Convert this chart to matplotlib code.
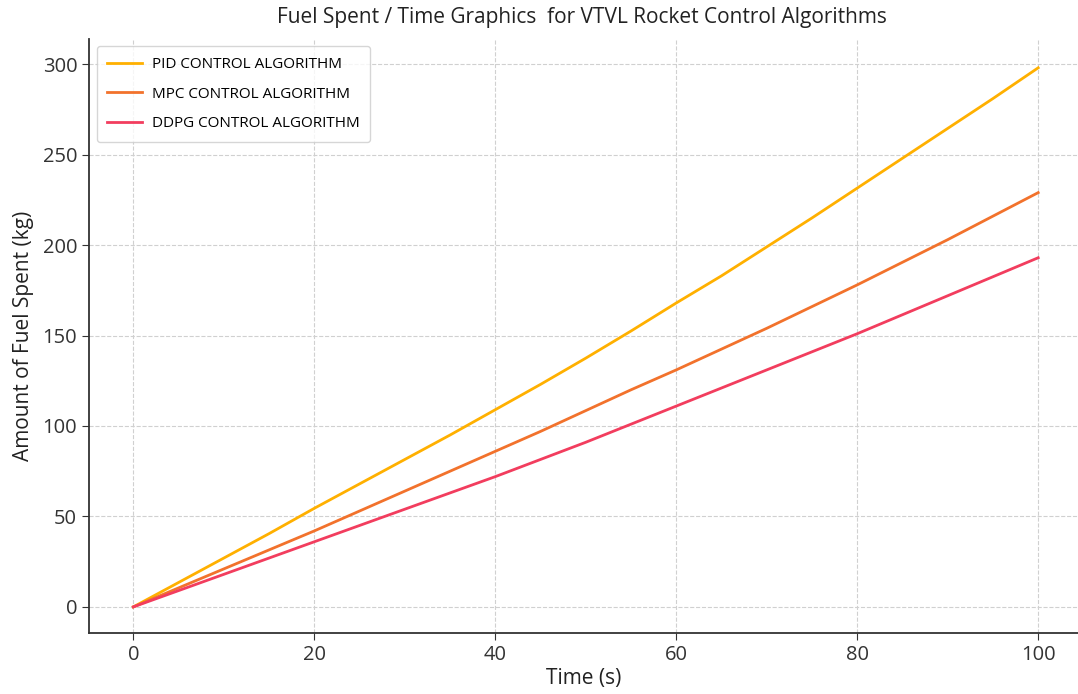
import matplotlib
matplotlib.use("Agg")
import matplotlib.pyplot as plt

# values, every 5 s
time_s = [0, 5, 10, 15, 20, 25, 30, 35, 40, 45, 50, 55, 60, 65, 70, 75, 80, 85, 90, 95, 100]
pid_fuel = [0, 13.5, 27, 40.5, 54.5, 68, 81.5, 95, 109, 123, 137.5, 152.5, 168, 183, 199, 215, 231.5, 248, 264.5, 281, 298]
mpc_fuel = [0, 10.5, 21, 31.5, 42, 53, 64, 75, 86, 97, 108.5, 120, 131, 142.5, 154, 166, 178, 190.5, 203, 216, 229]
ddpg_fuel = [0, 9, 18, 27, 36, 45, 54, 63, 72, 81.5, 91, 101, 111, 121, 131, 141, 151, 161.5, 172, 182.5, 193]

plt.rcParams["font.family"] = ["Open Sans", "DejaVu Sans"]

fig = plt.figure(figsize=(10.78, 6.94), dpi=100)
ax = fig.add_axes([0.0826, 0.088, 0.9174, 0.856])

ax.plot(time_s, pid_fuel, color="#FFB000", lw=2, label="PID CONTROL ALGORITHM")
ax.plot(time_s, mpc_fuel, color="#F2722C", lw=2, label="MPC CONTROL ALGORITHM")
ax.plot(time_s, ddpg_fuel, color="#F23D5E", lw=2, label="DDPG CONTROL ALGORITHM")

ax.set_xlim(-4.9, 104.4)
ax.set_ylim(-14.4, 314)
ax.set_xticks([0, 20, 40, 60, 80, 100])
ax.set_yticks([0, 50, 100, 150, 200, 250, 300])
ax.tick_params(labelsize=14.5, colors="#333333", length=5)
ax.grid(True, linestyle="--", color="#d0d0d0", linewidth=0.8)
ax.spines["top"].set_visible(False)
ax.spines["right"].set_visible(False)
ax.spines["left"].set_color("#333333")
ax.spines["bottom"].set_color("#333333")
ax.spines["left"].set_linewidth(1.3)
ax.spines["bottom"].set_linewidth(1.3)

ax.set_xlabel("Time (s)", fontsize=15, color="#222222", labelpad=2)
ax.set_ylabel("Amount of Fuel Spent (kg)", fontsize=15, color="#222222", labelpad=6)
fig.suptitle("Fuel Spent / Time Graphics  for VTVL Rocket Control Algorithms",
             fontsize=15, color="#222222", x=0.54, y=0.99)

ax.legend(loc="upper left", fontsize=11, frameon=True, borderpad=0.7,
          handlelength=2.3, handletextpad=0.6, labelspacing=0.95,
          borderaxespad=0.3, bbox_to_anchor=(0.003, 0.995))

fig.savefig("out.png", dpi=100)
